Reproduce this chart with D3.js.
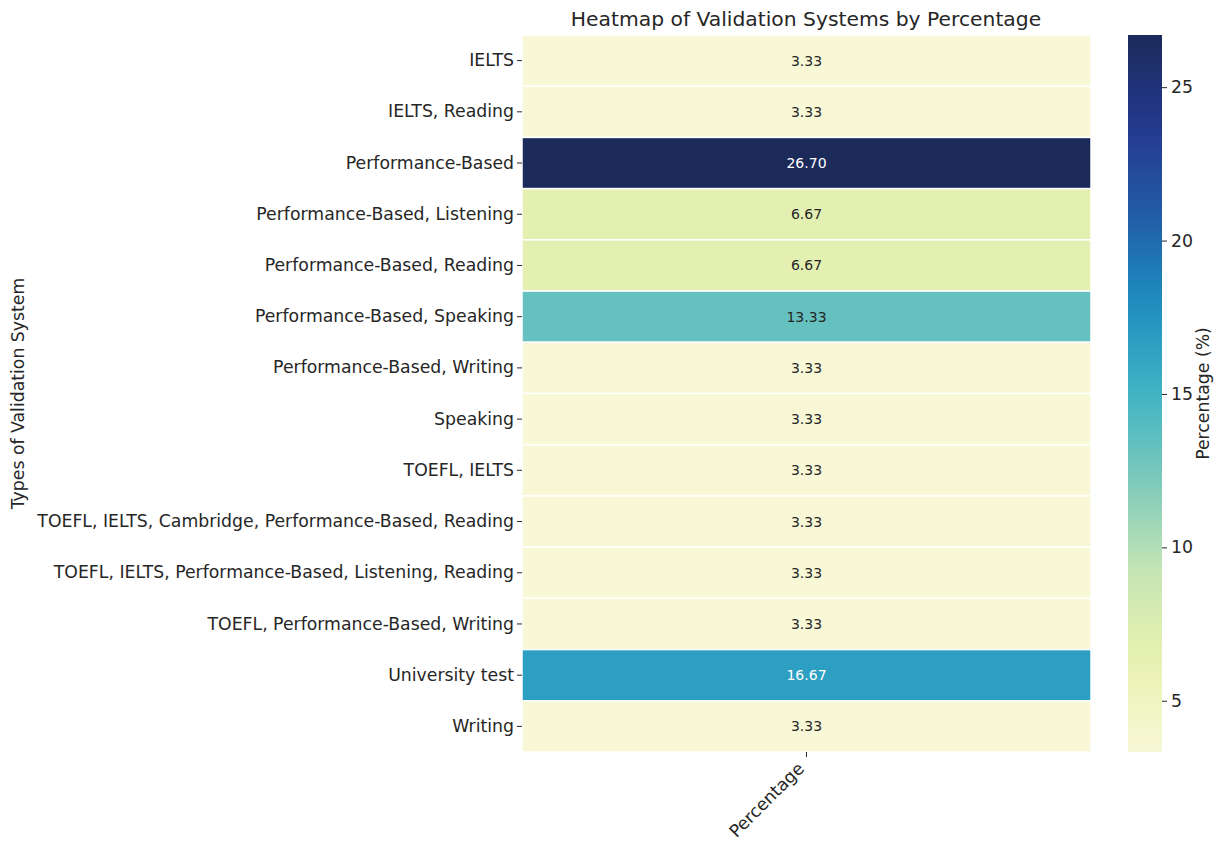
<!DOCTYPE html>
<html lang="en">
<head>
<meta charset="utf-8">
<title>Heatmap of Validation Systems</title>
<script src="https://cdn.jsdelivr.net/npm/d3@7"></script>
<style>
  body { margin: 0; background: #fff; }
  svg { font-family: "DejaVu Sans", sans-serif; }
</style>
</head>
<body>
<script>
// categories (rows) and their percentage values
const categories = [
  "IELTS",
  "IELTS, Reading",
  "Performance-Based",
  "Performance-Based, Listening",
  "Performance-Based, Reading",
  "Performance-Based, Speaking",
  "Performance-Based, Writing",
  "Speaking",
  "TOEFL, IELTS",
  "TOEFL, IELTS, Cambridge, Performance-Based, Reading",
  "TOEFL, IELTS, Performance-Based, Listening, Reading",
  "TOEFL, Performance-Based, Writing",
  "University test",
  "Writing"
];
const values = [3.33, 3.33, 26.70, 6.67, 6.67, 13.33, 3.33, 3.33, 3.33, 3.33, 3.33, 3.33, 16.67, 3.33];
const columns = ["Percentage"];
const colorbarTicks = [5, 10, 15, 20, 25];

// YlGnBu anchors (ends toned slightly to match the rendered reference)
const ylgnbu = ["#f8f8d7", "#e9f2b0", "#c7e6b4", "#7ecbbb", "#41b4c4", "#1d8fc0", "#225ca6", "#24388e", "#1c2a5a"];

const width = 1215, height = 841;
const margin = {top: 35, left: 522, right: 123, bottom: 89};
const cbar = {x: 1128, w: 34};

const svg = d3.select("body").append("svg")
  .attr("width", width)
  .attr("height", height);

const vmin = d3.min(values), vmax = d3.max(values);
const interp = d3.piecewise(d3.interpolateRgb, ylgnbu);
const color = d3.scaleSequential(interp).domain([vmin, vmax]);

const x = d3.scaleBand().domain(columns).range([margin.left, width - margin.right - 1]);
const y = d3.scaleBand().domain(categories).range([margin.top, height - margin.bottom]);

// cells
const rows = categories.map((c, i) => ({cat: c, col: columns[0], v: values[i]}));
svg.append("g").selectAll("rect")
  .data(rows)
  .join("rect")
  .attr("x", d => x(d.col))
  .attr("y", d => y(d.cat))
  .attr("width", x.bandwidth())
  .attr("height", y.bandwidth())
  .attr("fill", d => color(d.v))
  .attr("stroke", "#fff")
  .attr("stroke-width", 1.5);

// annotations, light text on dark cells
function lum(c) {
  const r = d3.rgb(c);
  const f = v => { v /= 255; return v <= 0.03928 ? v / 12.92 : Math.pow((v + 0.055) / 1.055, 2.4); };
  return 0.2126 * f(r.r) + 0.7152 * f(r.g) + 0.0722 * f(r.b);
}
svg.append("g").selectAll("text")
  .data(rows)
  .join("text")
  .attr("x", d => x(d.col) + x.bandwidth() / 2)
  .attr("y", d => y(d.cat) + y.bandwidth() / 2)
  .attr("text-anchor", "middle")
  .attr("dominant-baseline", "central")
  .attr("font-size", 14)
  .attr("fill", d => lum(color(d.v)) > 0.408 ? "#262626" : "#ffffff")
  .text(d => d.v.toFixed(2));

// y axis
const yAxis = svg.append("g")
  .attr("transform", `translate(${margin.left},0)`)
  .call(d3.axisLeft(y).tickSize(5).tickPadding(3));
yAxis.select(".domain").remove();
yAxis.selectAll("line").attr("stroke", "#262626").attr("stroke-width", 1);
yAxis.selectAll("text").attr("font-size", 17.3).attr("fill", "#262626")
  .attr("font-family", "DejaVu Sans, sans-serif");

// x axis
const xAxis = svg.append("g")
  .attr("transform", `translate(0,${height - margin.bottom})`)
  .call(d3.axisBottom(x).tickSize(5).tickPadding(4));
xAxis.select(".domain").remove();
xAxis.selectAll("line").attr("stroke", "#262626");
xAxis.selectAll("text")
  .attr("font-size", 17.3).attr("fill", "#262626")
  .attr("font-family", "DejaVu Sans, sans-serif")
  .attr("text-anchor", "end")
  .attr("dy", "0.35em")
  .attr("transform", "translate(-12,7) rotate(-45)");

// axis label
svg.append("text")
  .attr("transform", `translate(24,${(margin.top + height - margin.bottom) / 2}) rotate(-90)`)
  .attr("text-anchor", "middle")
  .attr("font-size", 17.3)
  .attr("fill", "#262626")
  .text("Types of Validation System");

// title
svg.append("text")
  .attr("x", 806)
  .attr("y", 26)
  .attr("text-anchor", "middle")
  .attr("font-size", 20.3)
  .attr("fill", "#262626")
  .text("Heatmap of Validation Systems by Percentage");

// colorbar
const cy = d3.scaleLinear().domain([vmin, vmax]).range([height - margin.bottom, margin.top]);
const defs = svg.append("defs");
const grad = defs.append("linearGradient").attr("id", "cbar")
  .attr("x1", 0).attr("y1", 1).attr("x2", 0).attr("y2", 0);
d3.range(0, 1.0001, 0.05).forEach(t => {
  grad.append("stop").attr("offset", t).attr("stop-color", interp(t));
});
svg.append("rect")
  .attr("x", cbar.x).attr("y", margin.top)
  .attr("width", cbar.w).attr("height", height - margin.bottom - margin.top)
  .attr("fill", "url(#cbar)");
const cAxis = svg.append("g")
  .attr("transform", `translate(${cbar.x + cbar.w},0)`)
  .call(d3.axisRight(cy).tickValues(colorbarTicks).tickSize(5).tickPadding(4));
cAxis.select(".domain").remove();
cAxis.selectAll("line").attr("stroke", "#262626");
cAxis.selectAll("text").attr("font-size", 17.3).attr("fill", "#262626")
  .attr("font-family", "DejaVu Sans, sans-serif");
svg.append("text")
  .attr("transform", `translate(1209,${(margin.top + height - margin.bottom) / 2}) rotate(-90)`)
  .attr("text-anchor", "middle")
  .attr("font-size", 17.3)
  .attr("fill", "#262626")
  .text("Percentage (%)");
</script>
</body>
</html>
